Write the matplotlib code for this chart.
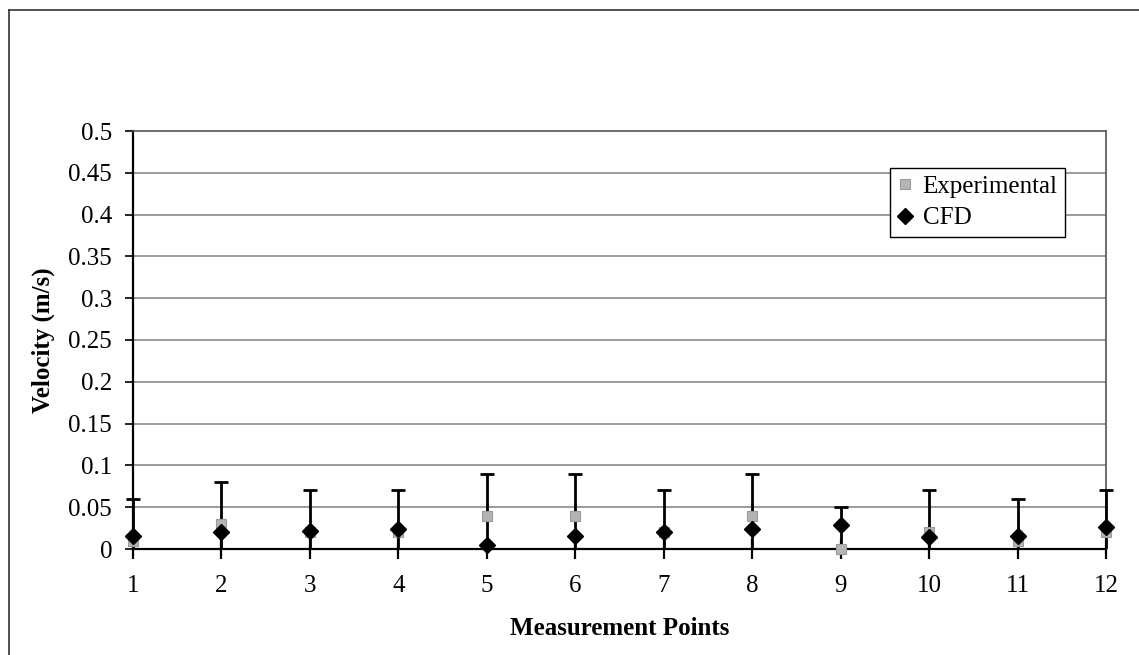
import numpy as np
import matplotlib
matplotlib.use("Agg")
import matplotlib.pyplot as plt
from matplotlib.patches import Rectangle
from matplotlib.lines import Line2D

# ---- data ----
points = [1, 2, 3, 4, 5, 6, 7, 8, 9, 10, 11, 12]
experimental = [0.01, 0.03, 0.02, 0.02, 0.04, 0.04, 0.02, 0.04, 0.0, 0.02, 0.01, 0.02]
exp_error = [0.05, 0.05, 0.05, 0.05, 0.05, 0.05, 0.05, 0.05, 0.05, 0.05, 0.05, 0.05]
cfd = [0.015, 0.02, 0.022, 0.024, 0.005, 0.015, 0.02, 0.024, 0.029, 0.014, 0.015, 0.026]
y_ticks = [0, 0.05, 0.1, 0.15, 0.2, 0.25, 0.3, 0.35, 0.4, 0.45, 0.5]
y_tick_labels = ["0", "0.05", "0.1", "0.15", "0.2", "0.25", "0.3", "0.35", "0.4", "0.45", "0.5"]

plt.rcParams['font.family'] = ['Liberation Serif', 'DejaVu Serif']

W, H = 1139, 655
fig = plt.figure(figsize=(W / 100, H / 100), dpi=100)
fig.patch.set_facecolor('white')

# outer frame (left and top edges)
fig.add_artist(Line2D([9 / W, 9 / W], [0, 1 - 10 / H], transform=fig.transFigure, color='#333333', lw=1.2))
fig.add_artist(Line2D([9 / W, 1], [1 - 10 / H, 1 - 10 / H], transform=fig.transFigure, color='#333333', lw=1.2))

left, right = 133 / W, 1106 / W
bottom, top = (H - 549) / H, (H - 131) / H
ax = fig.add_axes([left, bottom, right - left, top - bottom])

ax.set_xlim(1, 12)
ax.set_ylim(0, 0.5)
ax.set_yticks(y_ticks)
ax.set_yticklabels(y_tick_labels)
ax.set_xticks(points)
ax.set_xticklabels([str(p) for p in points])

for y in y_ticks[1:-1]:
    ax.axhline(y, color='#8a8a8a', lw=1.2, zorder=1)

# error bars, clipped at y=0 only
eb = ax.errorbar(points, experimental, yerr=exp_error, fmt='none', ecolor='black',
                 elinewidth=2, capsize=5, capthick=2, zorder=3)
clip_rect = Rectangle((-0.05, 0), 1.1, 1.2, transform=ax.transAxes, fill=False, visible=False)
ax.add_patch(clip_rect)
for artist in list(eb.lines[1]) + list(eb.lines[2]):
    artist.set_clip_path(clip_rect)

ax.plot(points, experimental, linestyle='none', marker='s', markersize=6.5,
        markerfacecolor='#b4b4b4', markeredgecolor='#9a9a9a', markeredgewidth=0.8,
        label='Experimental', zorder=4, clip_on=False)
ax.plot(points, cfd, linestyle='none', marker='D', markersize=8,
        markerfacecolor='black', markeredgecolor='black',
        label='CFD', zorder=5, clip_on=False)

for side in ['left', 'bottom']:
    ax.spines[side].set_color('black')
    ax.spines[side].set_linewidth(1.6)
for side in ['top', 'right']:
    ax.spines[side].set_color('#555555')
    ax.spines[side].set_linewidth(1.2)

ax.tick_params(axis='y', direction='out', length=6, width=1.2, pad=9, labelsize=18, colors='black')
ax.tick_params(axis='x', direction='inout', length=14, width=1.6, pad=12, labelsize=18, colors='black')

ax.set_xlabel('Measurement Points', fontsize=18, fontweight='bold', labelpad=14)
ax.set_ylabel('Velocity (m/s)', fontsize=18, fontweight='bold', labelpad=10)

leg = ax.legend(loc='upper left', bbox_to_anchor=((890 - 133) / (1106 - 133), (549 - 168) / (549 - 131)),
                fontsize=18, frameon=True, fancybox=False, edgecolor='black', framealpha=1,
                handlelength=0.6, handletextpad=0.4, borderpad=0.3, labelspacing=0.35,
                borderaxespad=0)
leg.get_frame().set_linewidth(1.0)
leg.set_zorder(10)

fig.savefig('out.png', dpi=100, facecolor='white')
